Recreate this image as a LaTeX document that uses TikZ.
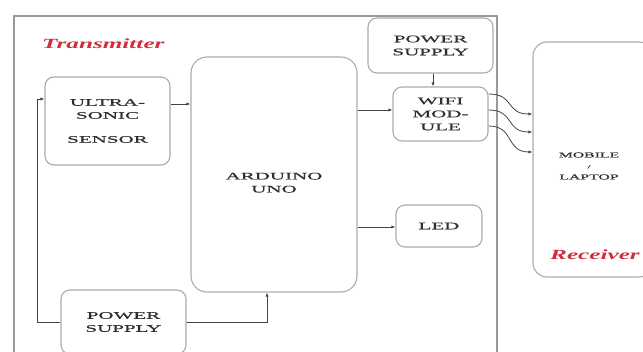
\documentclass[tikz,border=0pt]{standalone}
\usepackage{fontspec}
\usetikzlibrary{arrows.meta,calc}
\newfontfamily\boxfont[FakeStretch=2.1,FakeBold=0.6]{Liberation Serif}
\newfontfamily\labfont[FakeStretch=1.8]{Liberation Serif}
\definecolor{txt}{HTML}{2E2E2E}
\definecolor{edge}{HTML}{ABABAB}
\definecolor{frame}{HTML}{9A9A9A}
\definecolor{conn}{HTML}{444444}
\definecolor{lab}{HTML}{D02E3C}
\tikzset{
  blk/.style={draw=edge, line width=1.1pt, rounded corners=9pt, align=center,
    text=txt, inner sep=0pt, font=\boxfont\fontsize{10}{13}\selectfont},
  conn/.style={draw=conn, line width=0.8pt, -{Latex[length=4pt,width=3.2pt]}},
  lbl/.style={text=lab, font=\labfont\bfseries\itshape\fontsize{14}{16}\selectfont, inner sep=0pt}
}
\begin{document}
\begin{tikzpicture}[x=1pt,y=-1pt]
\useasboundingbox (0,0) rectangle (643,352);
% transmitter frame
\draw[frame, line width=1.4pt] (14,360) -- (14,16) -- (497,16) -- (497,360);
\node[lbl, anchor=west] (tx) at (42,44) {Transmitter};
% blocks
\node[blk, minimum width=125pt, minimum height=88pt] (sensor) at (107.5,121)
  {ULTRA-\\SONIC\\[11pt]SENSOR};
\node[blk, minimum width=166pt, minimum height=235pt, rounded corners=16pt] (arduino) at (274,174.5)
  {\\[10pt]ARDUINO\\UNO};
\node[blk, minimum width=125pt, minimum height=55pt] (pst) at (430.5,45.5)
  {POWER\\SUPPLY};
\node[blk, minimum width=95pt, minimum height=54pt] (wifi) at (440.5,114)
  {WIFI\\MOD-\\ULE};
\node[blk, minimum width=86pt, minimum height=42pt] (led) at (439,226) {LED};
\node[blk, minimum width=125pt, minimum height=64pt] (psb) at (123.5,322)
  {POWER\\SUPPLY};
\node[blk, minimum width=120pt, minimum height=235pt, rounded corners=14pt,
  font=\boxfont\fontsize{7.5}{11}\selectfont] (mobile) at (593,159.5) {};
\node[text=txt, align=center, inner sep=0pt, font=\boxfont\fontsize{7.5}{11}\selectfont]
  (mobtxt) at (589,166) {MOBILE\\{\fontsize{5}{6}\selectfont /}\\LAPTOP};
\node[lbl] (rx) at (595,255) {Receiver};
% connectors
\draw[conn] (psb.west) -- (37,322) |- (sensor.west |- 0,99);
\draw[conn] (psb.east) -| (arduino.south -| 267,0);
\draw[conn] (sensor.east |- 0,104) -- (arduino.west |- 0,104);
\draw[conn] (arduino.east |- 0,110) -- (wifi.west |- 0,110);
\draw[conn] (arduino.east |- 0,227) -- (led.west |- 0,227);
\draw[conn] (pst.south -| 433,0) -- (wifi.north -| 433,0);
\draw[conn] (wifi.east |- 0,94) .. controls (515,94) and (505,114) .. (mobile.west |- 0,114);
\draw[conn] (wifi.east |- 0,110) .. controls (515,110) and (505,132) .. (mobile.west |- 0,132);
\draw[conn] (wifi.east |- 0,126) .. controls (515,126) and (505,152) .. (mobile.west |- 0,152);
\end{tikzpicture}
\end{document}
